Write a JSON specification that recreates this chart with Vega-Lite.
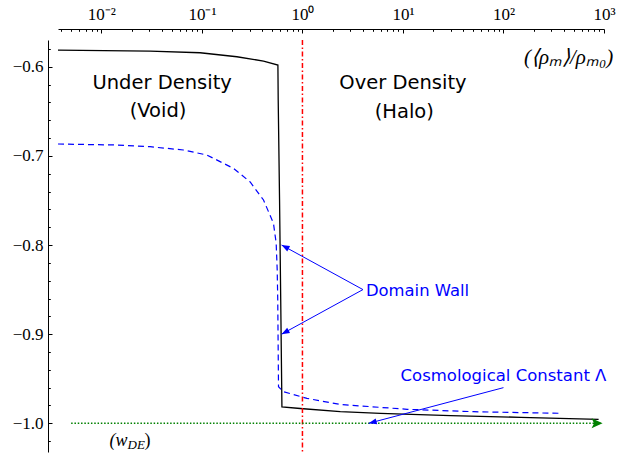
{
  "$schema": "https://vega.github.io/schema/vega-lite/v6.json",
  "width": 546,
  "height": 412,
  "autosize": {"type": "none"},
  "padding": {"left": 58, "top": 40, "right": 16, "bottom": 5},
  "background": "white",
  "config": {
    "view": {"stroke": null},
    "axis": {"grid": false, "title": null, "domainColor": "black", "tickColor": "black", "labelColor": "black", "labelFlush": false, "labelOverlap": false, "labelBound": false, "domainWidth": 1, "tickWidth": 1}
  },
  "datasets": {
    "curves": [
      {"s": "solid", "x": 0.0037, "y": -0.5813},
      {"s": "solid", "x": 0.0305, "y": -0.5824},
      {"s": "solid", "x": 0.0959, "y": -0.5843},
      {"s": "solid", "x": 0.2228, "y": -0.5888},
      {"s": "solid", "x": 0.410, "y": -0.5936},
      {"s": "solid", "x": 0.570, "y": -0.5981},
      {"s": "solid", "x": 0.574, "y": -0.6374},
      {"s": "solid", "x": 0.592, "y": -0.7496},
      {"s": "solid", "x": 0.608, "y": -0.8617},
      {"s": "solid", "x": 0.625, "y": -0.9817},
      {"s": "solid", "x": 0.951, "y": -0.9834},
      {"s": "solid", "x": 2.38, "y": -0.9868},
      {"s": "solid", "x": 5.96, "y": -0.9888},
      {"s": "solid", "x": 29.7, "y": -0.9913},
      {"s": "solid", "x": 148, "y": -0.9933},
      {"s": "solid", "x": 884, "y": -0.9955},
      {"s": "dashed", "x": 0.0037, "y": -0.6867},
      {"s": "dashed", "x": 0.01422, "y": -0.6878},
      {"s": "dashed", "x": 0.0305, "y": -0.6897},
      {"s": "dashed", "x": 0.0655, "y": -0.6934},
      {"s": "dashed", "x": 0.112, "y": -0.699},
      {"s": "dashed", "x": 0.206, "y": -0.714},
      {"s": "dashed", "x": 0.302, "y": -0.7293},
      {"s": "dashed", "x": 0.410, "y": -0.7495},
      {"s": "dashed", "x": 0.515, "y": -0.7757},
      {"s": "dashed", "x": 0.548, "y": -0.798},
      {"s": "dashed", "x": 0.561, "y": -0.828},
      {"s": "dashed", "x": 0.568, "y": -0.8617},
      {"s": "dashed", "x": 0.578, "y": -0.959},
      {"s": "dashed", "x": 0.649, "y": -0.9646},
      {"s": "dashed", "x": 1.109, "y": -0.972},
      {"s": "dashed", "x": 2.38, "y": -0.9789},
      {"s": "dashed", "x": 11.0, "y": -0.9843},
      {"s": "dashed", "x": 50.6, "y": -0.987},
      {"s": "dashed", "x": 370, "y": -0.9888}
    ],
    "lambda": [{"x": 0.005, "y": -1.0}, {"x": 950, "y": -1.0}],
    "lambdaTip": [{"x": 968, "y": -1.0}],
    "arrows": [
      {"id": "wall_up", "x": 4.0, "y": -0.85, "x2": 0.62, "y2": -0.8},
      {"id": "wall_down", "x": 4.0, "y": -0.85, "x2": 0.62, "y2": -0.9},
      {"id": "lambda", "x": 100, "y": -0.96, "x2": 4.56, "y2": -1.0}
    ],
    "regions": [
      {"t": "Under Density", "x": 0.0402, "y": -0.6183},
      {"t": "(Void)", "x": 0.0366, "y": -0.6491},
      {"t": "Over Density", "x": 10.0, "y": -0.6183},
      {"t": "(Halo)", "x": 10.3, "y": -0.6503}
    ],
    "wall": [{"t": "Domain Wall", "x": 4.0, "y": -0.8516}],
    "cosmo": [{"t": "Cosmological Constant Λ", "x": 100, "y": -0.9475}],
    "rho": [{"t": "(⟨ρₘ⟩/ρₘ₀)", "x": 444, "y": -0.5905}],
    "wde": [{"x": 0.01995, "y": -1.0195}]
  },
  "layer": [
    {
      "data": {"name": "curves"},
      "transform": [{"filter": "datum.s === 'solid'"}],
      "mark": {"type": "line", "color": "black", "strokeWidth": 1.3},
      "encoding": {
        "x": {"field": "x", "type": "quantitative", "scale": {"type": "log", "domain": [0.0037, 1000], "nice": false},
          "axis": {"orient": "top", "offset": 11, "tickCount": 500,
            "values": [0.004, 0.005, 0.006, 0.007, 0.008, 0.009, 0.01, 0.02, 0.03, 0.04, 0.05, 0.06, 0.07, 0.08, 0.09, 0.1, 0.2, 0.3, 0.4, 0.5, 0.6, 0.7, 0.8, 0.9, 1, 2, 3, 4, 5, 6, 7, 8, 9, 10, 20, 30, 40, 50, 60, 70, 80, 90, 100, 200, 300, 400, 500, 600, 700, 800, 900, 1000],
            "tickSize": {"condition": {"test": "abs(log(datum.value)/LN10 - round(log(datum.value)/LN10)) < 1e-6", "value": -4}, "value": -2.3},
            "labelPadding": 10,
            "labelFont": "Liberation Serif", "labelFontSize": 17,
            "labelExpr": "abs(log(datum.value)/LN10 - round(log(datum.value)/LN10)) < 1e-6 ? '10' + replace(replace(replace(replace(replace(''+round(log(datum.value)/LN10),'-','⁻'),'0','⁰'),'1','¹'),'2','²'),'3','³') : ''"}},
        "y": {"field": "y", "type": "quantitative", "scale": {"domain": [-1.0322, -0.57], "nice": false, "zero": false},
          "axis": {"orient": "left", "offset": 10, "tickCount": 500,
            "values": [-1.02, -1.0, -0.98, -0.96, -0.94, -0.92, -0.9, -0.88, -0.86, -0.84, -0.82, -0.8, -0.78, -0.76, -0.74, -0.72, -0.7, -0.68, -0.66, -0.64, -0.62, -0.6, -0.58],
            "format": ".1f",
            "tickSize": {"condition": {"test": "abs(datum.value*10 - round(datum.value*10)) < 1e-6", "value": -4}, "value": -2.3},
            "labelPadding": 9,
            "labelExpr": "abs(datum.value*10 - round(datum.value*10)) < 1e-6 ? datum.label : ''",
            "labelFont": "Liberation Serif", "labelFontSize": 17}}
      }
    },
    {
      "data": {"name": "curves"},
      "transform": [{"filter": "datum.s === 'dashed'"}],
      "mark": {"type": "line", "color": "#0000ff", "strokeWidth": 1.2, "strokeDash": [6, 4]},
      "encoding": {
        "x": {"field": "x", "type": "quantitative", "scale": {"type": "log", "domain": [0.0037, 1000], "nice": false}},
        "y": {"field": "y", "type": "quantitative", "scale": {"domain": [-1.0322, -0.57], "nice": false, "zero": false}}
      }
    },
    {
      "data": {"values": [{}]},
      "mark": {"type": "rule", "color": "#ff0000", "strokeWidth": 1.5, "strokeDash": [5, 2.5, 1.5, 2.5]},
      "encoding": {
        "x": {"datum": 1, "type": "quantitative", "scale": {"type": "log", "domain": [0.0037, 1000], "nice": false}}
      }
    },
    {
      "data": {"name": "lambda"},
      "mark": {"type": "line", "color": "#008000", "strokeWidth": 1.6, "strokeDash": [1.5, 1.8]},
      "encoding": {
        "x": {"field": "x", "type": "quantitative", "scale": {"type": "log", "domain": [0.0037, 1000], "nice": false}},
        "y": {"field": "y", "type": "quantitative", "scale": {"domain": [-1.0322, -0.57], "nice": false, "zero": false}}
      }
    },
    {
      "data": {"name": "lambdaTip"},
      "mark": {"type": "point", "shape": "M0,0L-1,2.2L0,1.7L1,2.2Z", "size": 100, "angle": 90, "filled": true, "color": "#008000", "opacity": 1},
      "encoding": {
        "x": {"field": "x", "type": "quantitative", "scale": {"type": "log", "domain": [0.0037, 1000], "nice": false}},
        "y": {"field": "y", "type": "quantitative", "scale": {"domain": [-1.0322, -0.57], "nice": false, "zero": false}}
      }
    },
    {
      "data": {"name": "arrows"},
      "mark": {"type": "rule", "color": "#0000ff", "strokeWidth": 1},
      "encoding": {
        "x": {"field": "x", "type": "quantitative", "scale": {"type": "log", "domain": [0.0037, 1000], "nice": false}},
        "y": {"field": "y", "type": "quantitative", "scale": {"domain": [-1.0322, -0.57], "nice": false, "zero": false}},
        "x2": {"field": "x2"},
        "y2": {"field": "y2"}
      }
    },
    {
      "data": {"name": "arrows"},
      "transform": [{"filter": "datum.id === 'wall_up'"}],
      "mark": {"type": "point", "shape": "M0,0L-0.75,2L0.75,2Z", "size": 64, "angle": 297.6, "filled": true, "color": "#0000ff", "opacity": 1},
      "encoding": {
        "x": {"field": "x2", "type": "quantitative", "scale": {"type": "log", "domain": [0.0037, 1000], "nice": false}},
        "y": {"field": "y2", "type": "quantitative", "scale": {"domain": [-1.0322, -0.57], "nice": false, "zero": false}}
      }
    },
    {
      "data": {"name": "arrows"},
      "transform": [{"filter": "datum.id === 'wall_down'"}],
      "mark": {"type": "point", "shape": "M0,0L-0.75,2L0.75,2Z", "size": 64, "angle": 241.6, "filled": true, "color": "#0000ff", "opacity": 1},
      "encoding": {
        "x": {"field": "x2", "type": "quantitative", "scale": {"type": "log", "domain": [0.0037, 1000], "nice": false}},
        "y": {"field": "y2", "type": "quantitative", "scale": {"domain": [-1.0322, -0.57], "nice": false, "zero": false}}
      }
    },
    {
      "data": {"name": "arrows"},
      "transform": [{"filter": "datum.id === 'lambda'"}],
      "mark": {"type": "point", "shape": "M0,0L-0.75,2L0.75,2Z", "size": 64, "angle": 255.6, "filled": true, "color": "#0000ff", "opacity": 1},
      "encoding": {
        "x": {"field": "x2", "type": "quantitative", "scale": {"type": "log", "domain": [0.0037, 1000], "nice": false}},
        "y": {"field": "y2", "type": "quantitative", "scale": {"domain": [-1.0322, -0.57], "nice": false, "zero": false}}
      }
    },
    {
      "data": {"name": "regions"},
      "mark": {"type": "text", "font": "DejaVu Sans", "fontSize": 19.5, "color": "black", "align": "center", "baseline": "middle"},
      "encoding": {
        "x": {"field": "x", "type": "quantitative", "scale": {"type": "log", "domain": [0.0037, 1000], "nice": false}},
        "y": {"field": "y", "type": "quantitative", "scale": {"domain": [-1.0322, -0.57], "nice": false, "zero": false}},
        "text": {"field": "t"}
      }
    },
    {
      "data": {"name": "wall"},
      "mark": {"type": "text", "font": "DejaVu Sans", "fontSize": 16.4, "color": "#0000ff", "align": "left", "baseline": "middle", "dx": 3},
      "encoding": {
        "x": {"field": "x", "type": "quantitative", "scale": {"type": "log", "domain": [0.0037, 1000], "nice": false}},
        "y": {"field": "y", "type": "quantitative", "scale": {"domain": [-1.0322, -0.57], "nice": false, "zero": false}},
        "text": {"field": "t"}
      }
    },
    {
      "data": {"name": "cosmo"},
      "mark": {"type": "text", "font": "DejaVu Sans", "fontSize": 16.5, "color": "#0000ff", "align": "center", "baseline": "middle"},
      "encoding": {
        "x": {"field": "x", "type": "quantitative", "scale": {"type": "log", "domain": [0.0037, 1000], "nice": false}},
        "y": {"field": "y", "type": "quantitative", "scale": {"domain": [-1.0322, -0.57], "nice": false, "zero": false}},
        "text": {"field": "t"}
      }
    },
    {
      "data": {"name": "rho"},
      "mark": {"type": "text", "font": "Liberation Serif", "fontSize": 21, "fontStyle": "italic", "color": "black", "align": "center", "baseline": "middle"},
      "encoding": {
        "x": {"field": "x", "type": "quantitative", "scale": {"type": "log", "domain": [0.0037, 1000], "nice": false}},
        "y": {"field": "y", "type": "quantitative", "scale": {"domain": [-1.0322, -0.57], "nice": false, "zero": false}},
        "text": {"field": "t"}
      }
    },
    {
      "data": {"name": "wde"},
      "mark": {"type": "text", "font": "Liberation Serif", "fontSize": 18, "fontStyle": "italic", "color": "black", "align": "right", "baseline": "middle", "dx": -4, "text": "(w"},
      "encoding": {
        "x": {"field": "x", "type": "quantitative", "scale": {"type": "log", "domain": [0.0037, 1000], "nice": false}},
        "y": {"field": "y", "type": "quantitative", "scale": {"domain": [-1.0322, -0.57], "nice": false, "zero": false}}
      }
    },
    {
      "data": {"name": "wde"},
      "mark": {"type": "text", "font": "Liberation Serif", "fontSize": 13, "fontStyle": "italic", "color": "black", "align": "left", "baseline": "middle", "dx": -4, "dy": 4, "text": "DE"},
      "encoding": {
        "x": {"field": "x", "type": "quantitative", "scale": {"type": "log", "domain": [0.0037, 1000], "nice": false}},
        "y": {"field": "y", "type": "quantitative", "scale": {"domain": [-1.0322, -0.57], "nice": false, "zero": false}}
      }
    },
    {
      "data": {"name": "wde"},
      "mark": {"type": "text", "font": "Liberation Serif", "fontSize": 18, "color": "black", "align": "left", "baseline": "middle", "dx": 13, "text": ")"},
      "encoding": {
        "x": {"field": "x", "type": "quantitative", "scale": {"type": "log", "domain": [0.0037, 1000], "nice": false}},
        "y": {"field": "y", "type": "quantitative", "scale": {"domain": [-1.0322, -0.57], "nice": false, "zero": false}}
      }
    }
  ]
}
